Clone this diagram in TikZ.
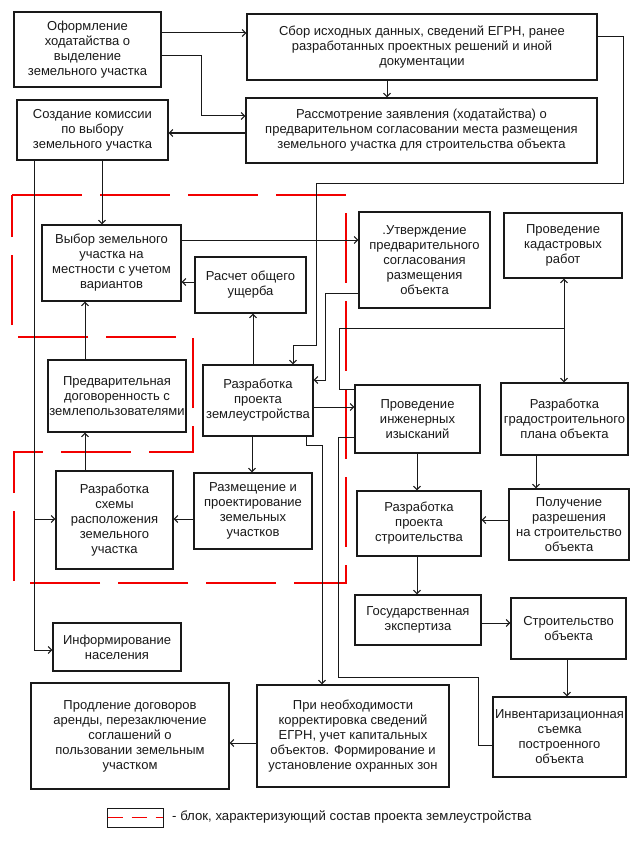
\documentclass[tikz,border=0pt]{standalone}
\usepackage{fontspec}
\setmainfont{Liberation Sans}
\usetikzlibrary{arrows.meta}
\begin{document}
\begin{tikzpicture}[x=1pt,y=-1pt,
  box/.style={draw=black!90, line width=1.3pt, inner sep=0pt, align=center,
    font=\fontsize{13}{15}\selectfont, text=black!90},
  conn/.style={line width=1pt, draw=black!90},
  arr/.style={conn, -{Straight Barb[length=3.5pt,width=7pt]}},
  arrb/.style={conn, {Straight Barb[length=3.5pt,width=7pt]}-{Straight Barb[length=3.5pt,width=7pt]}},
  block/.style={draw=red!95!black, line width=1.3pt, dash pattern=on 70pt off 18pt}]
\useasboundingbox (0,0) rectangle (634,848);
\fill[white] (0,0) rectangle (634,848);

% red dashed block
\draw[block] (12,195) -- (346,195) -- (346,583) -- (14,583) -- (14,452) -- (193,452) -- (193,337) -- (12,337) -- cycle;

% boxes
\node[box, minimum width=147pt, minimum height=75pt] (b1) at (87.5,49.5) {Оформление\\ходатайства о\\выделение\\земельного участка};
\node[box, minimum width=350pt, minimum height=66pt] (b2) at (422,47) {Сбор исходных данных, сведений ЕГРН, ранее\\разработанных проектных решений и иной\\документации};
\node[box, minimum width=351pt, minimum height=65pt] (b3) at (421.5,130.5) {Рассмотрение заявления (ходатайства) о\\предварительном согласовании места размещения\\земельного участка для строительства объекта};
\node[box, minimum width=151pt, minimum height=60pt] (b4) at (92.5,130) {Создание комиссии\\по выбору\\земельного участка};
\node[box, minimum width=139pt, minimum height=76pt] (b5) at (111.5,263) {Выбор земельного\\участка на\\местности с учетом\\вариантов};
\node[box, minimum width=111pt, minimum height=56pt] (b6) at (250.5,285) {Расчет общего\\ущерба};
\node[box, minimum width=138pt, minimum height=72pt] (b7) at (117,396) {Предварительная\\договоренность с\\землепользователями};
\node[box, minimum width=110pt, minimum height=71pt] (b8) at (258,400.5) {Разработка\\проекта\\землеустройства};
\node[box, minimum width=117pt, minimum height=98pt] (b9) at (114.5,520) {Разработка\\схемы\\расположения\\земельного\\участка};
\node[box, minimum width=118pt, minimum height=76pt] (b10) at (253,511) {Размещение и\\проектирование\\земельных\\участков};
\node[box, minimum width=131pt, minimum height=96pt] (b11) at (424.5,260) {.Утверждение\\предварительного\\согласования\\размещения\\объекта};
\node[box, minimum width=118pt, minimum height=65pt] (b12) at (563,245.5) {Проведение\\кадастровых\\работ};
\node[box, minimum width=125pt, minimum height=68pt] (b13) at (417.5,419) {Проведение\\инженерных\\изысканий};
\node[box, minimum width=127pt, minimum height=72pt] (b14) at (564.5,419) {Разработка\\градостроительного\\плана объекта};
\node[box, minimum width=120pt, minimum height=71pt] (b15) at (569,524.5) {Получение\\разрешения\\на строительство\\объекта};
\node[box, minimum width=124pt, minimum height=65pt] (b16) at (419,523.5) {Разработка\\проекта\\строительства};
\node[box, minimum width=126pt, minimum height=50pt] (b17) at (418,620) {Государственная\\экспертиза};
\node[box, minimum width=115pt, minimum height=61pt] (b18) at (568.5,628.5) {Строительство\\объекта};
\node[box, minimum width=133pt, minimum height=80pt] (b19) at (559.5,737) {Инвентаризационная\\съемка\\построенного\\объекта};
\node[box, minimum width=192pt, minimum height=102pt] (b20) at (353,736) {При необходимости\\корректировка сведений\\ЕГРН, учет капитальных\\объектов. Формирование и\\установление охранных зон};
\node[box, minimum width=198pt, minimum height=106pt] (b21) at (130,736) {Продление договоров\\аренды, перезаключение\\соглашений о\\пользовании земельным\\участком};
\node[box, minimum width=128pt, minimum height=48pt] (b22) at (117,647) {Информирование\\населения};

% connectors
\draw[arr] (b1.east |- 0,33) -- (b2.west |- 0,33);
\draw[arr] (b1.east |- 0,56) -| (201,116) -- (b3.west |- 0,116);
\draw[arr] (b2.south -| 387,0) -- (b3.north -| 387,0);
\draw[arr] (b3.west |- 0,133) -- (b4.east |- 0,133);
\draw[arr] (b2.east |- 0,37) -- (623,37) -- (623,183) -- (316,183) -- (316,345) -- (293,345) -- (b8.north -| 293,0);
\draw[arr] (b4.south -| 34,0) |- (b22.west |- 0,650);
\draw[arr] (34,519) -- (b9.west |- 0,519);
\draw[arr] (b4.south -| 102,0) -- (b5.north -| 102,0);
\draw[arr] (b5.east |- 0,240) -- (b11.west |- 0,240);
\draw[arr] (b6.west |- 0,282) -- (b5.east |- 0,282);
\draw[arr] (b8.north -| 253,0) -- (b6.south -| 253,0);
\draw[arr] (b7.north -| 85,0) -- (b5.south -| 85,0);
\draw[arr] (b9.north -| 85,0) -- (b7.south -| 85,0);
\draw[arr] (b10.west |- 0,519) -- (b9.east |- 0,519);
\draw[arr] (b8.south -| 252,0) -- (b10.north -| 252,0);
\draw[arr] (b8.east |- 0,407) -- (b13.west |- 0,407);
\draw[arr] (b11.west |- 0,293) -| (325,380) -- (b8.east |- 0,380);
\draw[arrb] (b12.south -| 564,0) -- (b14.north -| 564,0);
\draw[conn] (564,328) -| (339,389) -- (b13.west |- 0,389);
\draw[arr] (b13.south -| 417,0) -- (b16.north -| 417,0);
\draw[arr] (b14.south -| 536,0) -- (b15.north -| 536,0);
\draw[arr] (b15.west |- 0,520) -- (b16.east |- 0,520);
\draw[arr] (b16.south -| 417,0) -- (b17.north -| 417,0);
\draw[arr] (b17.east |- 0,623) -- (b18.west |- 0,623);
\draw[arr] (b18.south -| 567,0) -- (b19.north -| 567,0);
\draw[arr] (b8.south -| 306,0) -- (306,445) -| (b20.north -| 322,0);
\draw[conn] (b13.west |- 0,437) -- (338,437) |- (478,677) |- (b19.west |- 0,745);
\draw[arr] (b20.west |- 0,743) -- (b21.east |- 0,743);

% legend
\node[draw=black!90, line width=1pt, minimum width=56pt, minimum height=19pt, inner sep=0pt] (leg) at (135,817.5) {};
\draw[red!95!black, line width=1.3pt, dash pattern=on 15pt off 9pt] ([xshift=1pt]leg.west) -- ([xshift=-1pt]leg.east);
\node[anchor=west, inner sep=0pt, font=\fontsize{13.2}{15}\selectfont, text=black!90] (legtext) at (172,817) {- блок, характеризующий состав проекта землеустройства};
\end{tikzpicture}
\end{document}
